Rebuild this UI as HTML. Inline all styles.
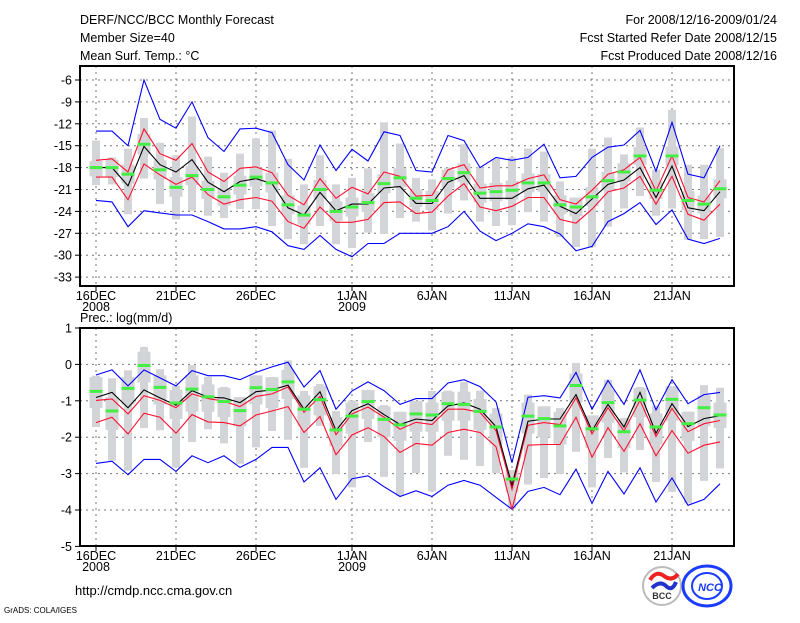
<!DOCTYPE html>
<html><head><meta charset="utf-8"><style>
body{margin:0;background:#fff}
svg text{font-family:"Liberation Sans",sans-serif;font-size:12.5px;fill:#000}
</style></head><body>
<svg id="c" width="800" height="618" xmlns="http://www.w3.org/2000/svg">
<rect width="800" height="618" fill="#fff"/>
<g>
<text x="80" y="24">DERF/NCC/BCC Monthly Forecast</text>
<text x="80" y="42">Member Size=40</text>
<text x="80" y="60">Mean Surf. Temp.: °C</text>
<text x="777" y="24" text-anchor="end">For 2008/12/16-2009/01/24</text>
<text x="777" y="42" text-anchor="end">Fcst Started Refer Date 2008/12/15</text>
<text x="777" y="60" text-anchor="end">Fcst Produced Date 2008/12/16</text>
</g>
<text x="80" y="322">Prec.: log(mm/d)</text>
<text x="75" y="595" style="font-size:13px">http://cmdp.ncc.cma.gov.cn</text>
<text x="4" y="613" style="font-size:8px">GrADS: COLA/IGES</text>
<g>
<circle cx="662" cy="586" r="19" fill="#fff" stroke="#bbb" stroke-width="2"/>
<path d="M650 580 q6 -10 14 -4 q8 6 14 -2" stroke="#e22" stroke-width="4" fill="none"/>
<path d="M652 588 q8 -8 14 -2 q6 6 10 -4" stroke="#23c" stroke-width="4" fill="none"/>
<text x="662" y="599" text-anchor="middle" style="font-size:9px;font-weight:bold;fill:#333">BCC</text>
</g>
<g>
<ellipse cx="707" cy="586" rx="24" ry="20" fill="none" stroke="#1a3cff" stroke-width="3"/>
<ellipse cx="707" cy="586" rx="15" ry="13" fill="none" stroke="#1a3cff" stroke-width="2"/>
<text x="710" y="591" text-anchor="middle" style="font-size:11px;font-weight:bold;font-style:italic;fill:#1a3cff">NCC</text>
</g>
<g id="top"></g>
<g id="bot"></g>
</svg>
<script>
const days=["16DEC","","","","","21DEC","","","","","26DEC","","","","","","1JAN","","","","","6JAN","","","","","11JAN","","","","","16JAN","","","","","21JAN","","",""];
const yearLabels={0:"2008",16:"2009"};
const tTicks=[-6,-9,-12,-15,-18,-21,-24,-27,-30,-33];
const pTicks=[1,0,-1,-2,-3,-4,-5];
const tMean=[-18,-18,-20.5,-15.1,-17.6,-18.6,-16.9,-20,-21.3,-19.9,-19.5,-20.2,-23.5,-24.5,-21.4,-23.9,-23,-23,-20.8,-20.6,-22.9,-22.9,-20,-19.1,-22.2,-22.2,-22.2,-20.9,-20.4,-23.3,-24.3,-22.3,-20.3,-19.7,-18,-22.1,-17.8,-23.5,-23.9,-21.3];
const tRedHi=[-17,-16.8,-18.6,-12.7,-16.1,-17,-14.7,-18.6,-19.9,-18.1,-17.9,-18.7,-21.8,-23.1,-19.5,-22.2,-20.7,-21.6,-18.6,-19.2,-21.9,-21.8,-18.3,-17.6,-20.8,-20.5,-20.5,-19.5,-19,-22.4,-23,-21.1,-18.9,-18.3,-16.6,-21.2,-16.4,-22.1,-22.7,-19.8];
const tRedLo=[-19.3,-19.3,-22.4,-17.5,-19,-20.3,-19.3,-21.7,-23,-22.4,-22.1,-22.6,-25.4,-26.3,-23.4,-25.5,-25.5,-25.1,-22.8,-22.7,-24.3,-24.1,-21.9,-20.2,-23.4,-23.9,-23.3,-22.1,-22.1,-25.1,-25.6,-23.7,-21.3,-20.8,-19.2,-23,-19.2,-24.4,-25.2,-23];
const tBlueHi=[-13,-13,-15,-6,-11.4,-12.6,-9,-13.9,-15.8,-12.7,-12.6,-13.2,-17.6,-19.7,-14.9,-18.4,-15.5,-17.1,-13.1,-13.6,-18.4,-18.6,-13.6,-14.3,-18,-16.6,-17,-16.6,-14.8,-19.4,-19.2,-16.6,-15.2,-14.9,-12.9,-18.5,-11.8,-18.9,-19.4,-15];
const tBlueLo=[-22.5,-22.7,-26.1,-23.9,-24.2,-24.5,-24.5,-25.4,-26.4,-26.4,-26.1,-26.8,-28.7,-29.2,-27.3,-29.2,-30.2,-28.4,-28.4,-27,-27,-27,-26.1,-24,-26.7,-28,-27,-25.7,-26.1,-27.1,-29.4,-28.8,-25.4,-24.3,-22.8,-25.8,-23.8,-27.8,-28.4,-27.7];
const tGreen=[-18,-18,-18.9,-14.8,-18.3,-20.7,-19.1,-21,-22,-20.4,-19.3,-20.1,-23.1,-24.5,-21,-24,-23.4,-22.8,-20.2,-19.4,-22.2,-22.5,-19.5,-18.7,-21.5,-21.3,-21.1,-20.1,-20.1,-23.1,-23.4,-22,-19.8,-18.6,-16.4,-21.1,-16.4,-22.5,-23,-20.9];
const tBarHi=[-14.3,-16.6,-15.4,-11.2,-14.6,-16.3,-11,-16.5,-18.7,-16.1,-14,-12.9,-16.8,-20.3,-16.3,-20.3,-19.4,-18.1,-11.8,-14.7,-19.4,-19.6,-18,-14.8,-18,-16.8,-16.6,-15.4,-15.8,-19.9,-22.2,-15.4,-13.9,-16.2,-12.5,-18.3,-10.1,-17.6,-17.6,-15.3];
const tBarLo=[-20.4,-20.3,-24.4,-19.5,-23,-25.1,-23.9,-24.6,-24.9,-23.7,-23.7,-26,-27.8,-28.5,-26,-28.5,-29,-26.9,-27.1,-24.9,-25.4,-26.6,-24.3,-22.5,-25.4,-26,-25.9,-24.1,-25.4,-27.5,-28.9,-28.9,-26.1,-23.6,-21.9,-24.6,-23.6,-27.9,-27.8,-27.5];
const tBoxHi=[-17.1,-16.9,-17.6,-13.4,-17,-19.3,-17.8,-19.8,-20.8,-19.1,-18,-18.7,-21.8,-23.2,-19.7,-22.6,-22.1,-21.5,-18.9,-18.1,-21,-21.2,-18.3,-17.4,-20.2,-20.1,-19.8,-18.8,-18.9,-21.8,-22.1,-20.7,-18.6,-17.4,-15.2,-19.9,-15.1,-21.2,-21.8,-19.6];
const tBoxLo=[-19.2,-19.3,-20.2,-16.2,-19.6,-22,-20.4,-22.3,-23.2,-21.7,-20.6,-21.4,-24.4,-25.8,-22.3,-25.3,-24.7,-24.1,-21.5,-20.7,-23.4,-23.8,-20.8,-20,-22.8,-22.6,-22.4,-21.4,-21.3,-24.4,-24.7,-23.3,-21.1,-19.9,-17.6,-22.3,-17.7,-23.8,-24.3,-22.2];
const pMean=[-0.91,-0.77,-1.19,-0.7,-0.92,-1.12,-0.72,-0.9,-0.92,-1.05,-0.75,-0.7,-0.57,-1.23,-0.75,-1.82,-1.27,-1.08,-1.38,-1.65,-1.5,-1.54,-1.14,-1.06,-1.23,-1.71,-3.32,-1.56,-1.5,-1.5,-0.83,-1.82,-1.1,-1.72,-0.77,-1.89,-1.08,-1.71,-1.49,-1.41];
const pRedHi=[-0.99,-0.95,-1.36,-0.86,-0.99,-1.19,-0.81,-0.94,-1.01,-1.16,-0.88,-0.81,-0.62,-1.32,-0.88,-1.93,-1.36,-1.17,-1.45,-1.78,-1.59,-1.65,-1.23,-1.23,-1.32,-1.82,-3.43,-1.67,-1.6,-1.65,-0.92,-1.91,-1.19,-1.83,-0.99,-1.98,-1.21,-1.85,-1.63,-1.54];
const pRedLo=[-1.6,-1.45,-1.91,-1.34,-1.45,-1.89,-1.38,-1.58,-1.6,-1.69,-1.39,-1.28,-1.16,-1.87,-1.43,-2.48,-1.94,-1.74,-1.98,-2.42,-2.17,-2.22,-1.87,-1.78,-1.87,-2.26,-3.98,-2.22,-2.2,-2.2,-1.45,-2.55,-1.74,-2.39,-1.63,-2.51,-1.82,-2.44,-2.22,-2.13];
const pBlueHi=[-0.29,-0.15,-0.59,-0.15,-0.37,-0.59,-0.17,-0.31,-0.31,-0.42,-0.22,-0.07,0.06,-0.62,-0.17,-1.23,-0.73,-0.48,-0.72,-1.1,-0.94,-0.94,-0.51,-0.42,-0.61,-1.03,-2.7,-0.9,-0.86,-0.92,-0.22,-1.23,-0.44,-1.1,-0.15,-1.25,-0.42,-1.08,-0.83,-0.77];
const pBlueLo=[-2.72,-2.66,-3.03,-2.61,-2.61,-2.94,-2.51,-2.7,-2.51,-2.83,-2.61,-2.28,-2.28,-3.23,-2.84,-3.71,-3.14,-3.06,-3.36,-3.63,-3.47,-3.63,-3.32,-3.19,-3.32,-3.65,-3.98,-3.49,-3.38,-3.58,-2.88,-3.82,-2.94,-3.56,-2.84,-3.78,-3.12,-3.87,-3.71,-3.28];
const pGreen=[-0.74,-1.28,-0.66,-0.03,-0.63,-1.06,-0.68,-0.89,-1.02,-1.27,-0.64,-0.69,-0.48,-1.23,-0.97,-1.8,-1.42,-1.02,-1.51,-1.66,-1.36,-1.39,-1.08,-1.1,-1.29,-1.72,-3.15,-1.42,-1.49,-1.69,-0.58,-1.77,-1.05,-1.85,-0.98,-1.72,-0.96,-1.63,-1.19,-1.39];
const pBarHi=[-0.31,-0.38,-0.16,0.48,-0.13,-0.59,-0.02,-0.34,-0.62,-0.9,-0.46,-0.35,0.11,-0.73,-0.54,-1.28,-0.99,-0.97,-1.12,-1.35,-1.25,-0.73,-0.72,-0.48,-0.72,-1.2,-2.99,-0.83,-1.45,-1.2,0.04,-1.61,-0.42,-1.47,-0.62,-1.14,-0.81,-1.3,-0.57,-0.64];
const pBarLo=[-1.72,-2.64,-2.92,-1.75,-1.81,-2.83,-2.13,-1.78,-2.17,-2.73,-2.28,-1.83,-2.07,-2.84,-1.69,-3.01,-3.38,-2.13,-3.09,-3.61,-2.99,-3.49,-2.51,-2.62,-2.79,-2.99,-3.96,-3.3,-3.12,-3.01,-2.4,-3.38,-2.57,-2.97,-2.35,-3.23,-3.5,-3.82,-3.2,-2.86];
const pBoxHi=[-0.35,-0.9,-0.35,0.35,-0.3,-0.7,-0.3,-0.55,-0.65,-0.9,-0.3,-0.35,-0.15,-0.85,-0.6,-1.45,-1.05,-0.7,-1.15,-1.3,-1,-1.05,-0.75,-0.75,-0.95,-1.35,-2.9,-1.05,-1.15,-1.3,-0.25,-1.4,-0.7,-1.5,-0.65,-1.35,-0.6,-1.3,-0.85,-1.05];
const pBoxLo=[-1.2,-1.8,-1.1,-0.5,-1.1,-1.5,-1.3,-1.3,-1.45,-1.7,-1.1,-1.2,-0.95,-1.7,-1.4,-2.25,-1.9,-1.5,-2,-2.1,-1.85,-1.85,-1.55,-1.55,-1.8,-2.2,-3.5,-1.9,-2,-2.2,-1.05,-2.3,-1.6,-2.3,-1.45,-2.2,-1.55,-2.1,-1.7,-1.75];

const NS="http://www.w3.org/2000/svg";
const L=80,R=734;
function xDay(i){return 96+16*i;}
function yTemp(v){return 80+(-6-v)*7.3;}
function yPrec(v){return 364.4-v*36.4;}
function mk(g,tag,attrs){const e=document.createElementNS(NS,tag);for(const k in attrs)e.setAttribute(k,attrs[k]);g.appendChild(e);return e;}

function panel(gid,top,bot,yf,ticks,S){
  const g=document.getElementById(gid);
  // grid
  ticks.forEach(t=>{const y=yf(t);
    if(y>top+1&&y<bot-1){const ln=mk(g,'line',{x1:L,x2:R,y1:y,y2:y,stroke:'#777','stroke-dasharray':'2,4'});
    
    }
    const tk=mk(g,'line',{x1:L-5,x2:L,y1:y,y2:y,stroke:'#000'});
    
    
    const tx=mk(g,'text',{x:L-8,y:y+4.5,'text-anchor':'end'});tx.textContent=String(t).replace('-','−').replace('−','-');
    
    
  });
  days.forEach((d,i)=>{const x=xDay(i);
    if(d){const ln=mk(g,'line',{x1:x,x2:x,y1:top,y2:bot,stroke:'#777','stroke-dasharray':'2,4'});
      
      
      const tk=mk(g,'line',{x1:x,x2:x,y1:bot,y2:bot+5,stroke:'#000'});
      
      
      const tx=mk(g,'text',{x:x,y:bot+14,'text-anchor':'middle'});tx.textContent=d;
      
      }
    if(yearLabels[i]){const t2=mk(g,'text',{x:x,y:bot+25,'text-anchor':'middle'});t2.textContent=yearLabels[i];
      
      }
  });
  // bars
  days.forEach((d,i)=>{const x=xDay(i);
    const b=mk(g,'rect',{x:x-4,y:yf(S.barHi[i]),width:8,height:yf(S.barLo[i])-yf(S.barHi[i]),fill:'#d3d4d8'});
    
    
    const bx=mk(g,'rect',{x:x-6.5,y:yf(S.boxHi[i]),width:13,height:yf(S.boxLo[i])-yf(S.boxHi[i]),fill:'#d3d4d8'});
    
    
  });
  function line(arr,col,name){const p=mk(g,'polyline',{points:arr.map((v,i)=>xDay(i)+','+yf(v).toFixed(1)).join(' '),fill:'none',stroke:col,'stroke-width':1.1});
    
    }
  line(S.blueHi,'#0000ff','blue-upper-line');line(S.blueLo,'#0000ff','blue-lower-line');
  line(S.redHi,'#ff1030','red-upper-line');line(S.redLo,'#ff1030','red-lower-line');
  line(S.mean,'#000','ensemble-mean-line');
  S.green.forEach((v,i)=>{const r=mk(g,'rect',{x:xDay(i)-6.5,y:yf(v)-1.5,width:13,height:3,fill:'#44ee44'});
    
    });
  const fr=mk(g,'rect',{x:L,y:top,width:R-L,height:bot-top,fill:'none',stroke:'#000','stroke-width':2});
  
  
}
panel('top',66,286,yTemp,tTicks,{mean:tMean,redHi:tRedHi,redLo:tRedLo,blueHi:tBlueHi,blueLo:tBlueLo,green:tGreen,barHi:tBarHi,barLo:tBarLo,boxHi:tBoxHi,boxLo:tBoxLo});
panel('bot',328,546,yPrec,pTicks,{mean:pMean,redHi:pRedHi,redLo:pRedLo,blueHi:pBlueHi,blueLo:pBlueLo,green:pGreen,barHi:pBarHi,barLo:pBarLo,boxHi:pBoxHi,boxLo:pBoxLo});
</script>
</body></html>
